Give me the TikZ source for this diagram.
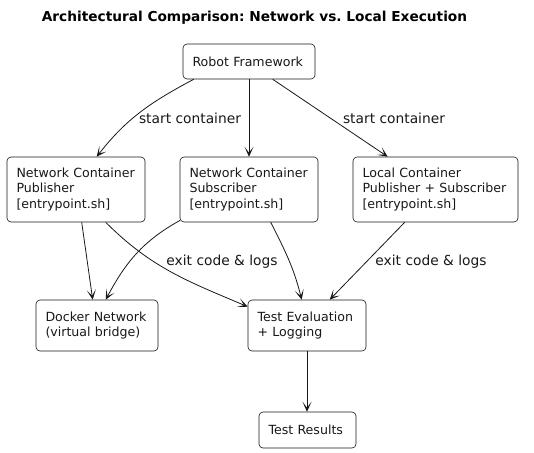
\documentclass[tikz,border=0pt]{standalone}
\usepackage{fontspec}
\setmainfont{DejaVu Sans}
\usetikzlibrary{arrows.meta}
\definecolor{ink}{HTML}{181818}
\hyphenpenalty=10000
\exhyphenpenalty=10000
\frenchspacing
\tikzset{
  x=1pt,y=1pt,
  box/.style={draw=ink, line width=0.6pt, fill=white, rounded corners=4pt,
    inner xsep=9.5pt, inner ysep=0pt, align=left, anchor=center,
    font=\fontsize{12.6}{15.3}\selectfont, text=ink},
  lbl/.style={font=\fontsize{13.8}{16}\selectfont, text=ink, inner sep=0pt},
  conn/.style={draw=ink, line width=0.8pt, -{Stealth[length=10pt,width=9pt,inset=6pt]}},
}
\begin{document}
\begin{tikzpicture}
\useasboundingbox (0,0) rectangle (534,-452);
\node[font=\bfseries\fontsize{13.7}{15}\selectfont, text=black] (title) at (254.5,-18) {Architectural Comparison: Network vs. Local Execution};

\node[box, text width=113pt, minimum height=35pt] (robot) at (249,-61.5) {Robot Framework};
\node[box, text width=119pt, minimum height=65pt] (pub) at (76,-189.5) {Network Container\\Publisher\\{[entrypoint.sh]}};
\node[box, text width=119pt, minimum height=65pt] (sub) at (249,-189.5) {Network Container\\Subscriber\\{[entrypoint.sh]}};
\node[box, text width=146pt, minimum height=65pt] (local) at (435.5,-189.5) {Local Container\\Publisher + Subscriber\\{[entrypoint.sh]}};
\node[box, text width=103pt, minimum height=51pt] (docker) at (97,-325.5) {Docker Network\\(virtual bridge)};
\node[box, text width=99pt, minimum height=51pt] (eval) at (307,-325.5) {Test Evaluation\\+ Logging};
\node[box, text width=78pt, minimum height=36pt] (results) at (307.5,-430) {Test Results};

% robot -> containers
\draw[conn] ([xshift=11pt]robot.south west) to[out=208,in=52] ([xshift=90pt]pub.north west);
\draw[conn] (robot.south) -- (sub.north);
\draw[conn] ([xshift=90pt]robot.south west) -- ([xshift=35pt]local.north west);
\node[lbl] (l1) at (190,-118) {start container};
\node[lbl] (l2) at (394,-118) {start container};

% containers -> docker / eval
\draw[conn] ([xshift=75pt]pub.south west) -- ([xshift=57pt]docker.north west);
\draw[conn] ([xshift=99pt]pub.south west) to[out=-45,in=157] ([yshift=-7pt]eval.north west);
\draw[conn] ([shift={(0.5pt,2pt)}]sub.south west) to[out=-151,in=62] ([xshift=70pt]docker.north west);
\draw[conn] ([xshift=91pt]sub.south west) to[out=-63,in=104] ([xshift=54pt]eval.north west);
\draw[conn] ([xshift=52pt]local.south west) -- ([xshift=82pt]eval.north west);
\node[lbl] (l3) at (222,-262) {exit code \& logs};
\node[lbl] (l4) at (431,-262) {exit code \& logs};

\draw[conn] (eval.south) -- ([xshift=-0.5pt]results.north);
\end{tikzpicture}
\end{document}
